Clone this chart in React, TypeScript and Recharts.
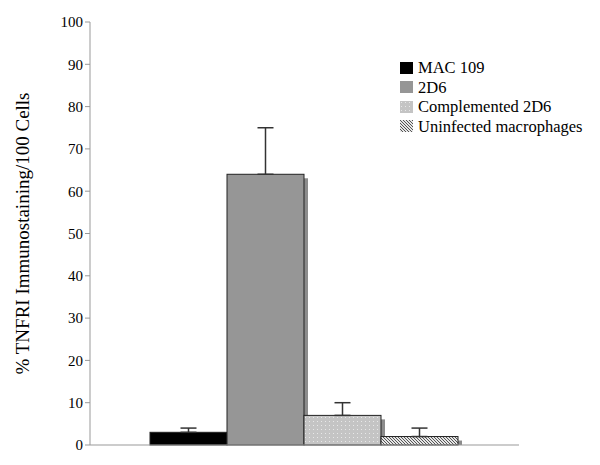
import { Bar, BarChart, ErrorBar, XAxis, YAxis } from "recharts"

const seriesNames = ["MAC 109", "2D6", "Complemented 2D6", "Uninfected macrophages"]
const seriesKeys = ["mac109", "d2d6", "comp2d6", "uninf"]
const seriesValues = [3, 64, 7, 2]
const seriesErrors = [1, 11, 3, 2]
const seriesFills = ["#000000", "#969696", "url(#dots)", "url(#hatch)"]
const yTicks = [0, 10, 20, 30, 40, 50, 60, 70, 80, 90, 100]

const row: Record<string, any> = { name: "" }
seriesKeys.forEach((k, i) => {
  row[k] = seriesValues[i]
  row[k + "Err"] = [0, seriesErrors[i]]
})
const data = [row]

const font = "'Liberation Serif', 'Times New Roman', serif"

function ShadowBar(props: any) {
  const { x, y, width, height, fill } = props
  if (!height) return null
  return (
    <g>
      <rect x={x + 4} y={y + 4} width={width} height={Math.max(height - 4, 0)} fill="#8c8c8c" />
      <rect x={x} y={y} width={width} height={height} fill={fill} stroke="#222" strokeWidth={1} />
    </g>
  )
}

function LegendBox() {
  return (
    <div
      style={{
        position: "absolute",
        left: 400,
        top: 58,
        fontFamily: font,
        fontSize: 16.5,
        color: "#000",
        lineHeight: "19.5px",
        whiteSpace: "nowrap",
      }}
    >
      {seriesNames.map((n, i) => (
        <div key={n} style={{ display: "flex", alignItems: "center" }}>
          <svg width={13} height={12} style={{ marginRight: 5 }}>
            <rect x={0} y={0} width={13} height={12} fill={seriesFills[i]} />
          </svg>
          <span>{n}</span>
        </div>
      ))}
    </div>
  )
}

export default function App() {
  return (
    <div style={{ position: "absolute", left: 0, top: 0, width: 600, height: 465, background: "#fff" }}>
      <svg width={0} height={0} style={{ position: "absolute" }}>
        <defs>
          <pattern id="dots" width={4} height={4} patternUnits="userSpaceOnUse">
            <rect width={4} height={4} fill="#c4c4c4" />
            <rect x={1} y={1} width={1} height={1} fill="#e8e8e8" />
          </pattern>
          <pattern id="hatch" width={3} height={3} patternUnits="userSpaceOnUse">
            <rect width={3} height={3} fill="#e6e6e6" />
            <rect x={0} y={0} width={1} height={1} fill="#555" />
            <rect x={1} y={1} width={1} height={1} fill="#555" />
            <rect x={2} y={2} width={1} height={1} fill="#555" />
          </pattern>
        </defs>
      </svg>
      <BarChart
        width={600}
        height={465}
        data={data}
        margin={{ top: 22, right: 81, bottom: 0, left: 0 }}
        barGap={0}
        barCategoryGap={60}
      >
        <XAxis dataKey="name" height={20} tick={false} tickLine={false} axisLine={{ stroke: "#999" }} />
        <YAxis
          width={90}
          domain={[0, 100]}
          ticks={yTicks}
          interval={0}
          tickSize={5}
          axisLine={{ stroke: "#999" }}
          tickLine={{ stroke: "#999" }}
          tick={{ fill: "#000", fontFamily: font, fontSize: 15 }}
          label={{
            value: "% TNFRI Immunostaining/100 Cells",
            angle: -90,
            position: "insideLeft",
            offset: 22,
            style: { textAnchor: "middle", fontFamily: font, fontSize: 19, fill: "#000" },
          }}
        />
        {seriesKeys.map((k, i) => (
          <Bar key={k} dataKey={k} name={seriesNames[i]} fill={seriesFills[i]} shape={<ShadowBar />} isAnimationActive={false}>
            <ErrorBar dataKey={k + "Err"} width={8} stroke="#333" strokeWidth={1.5} direction="y" />
          </Bar>
        ))}
      </BarChart>
      <LegendBox />
    </div>
  )
}
